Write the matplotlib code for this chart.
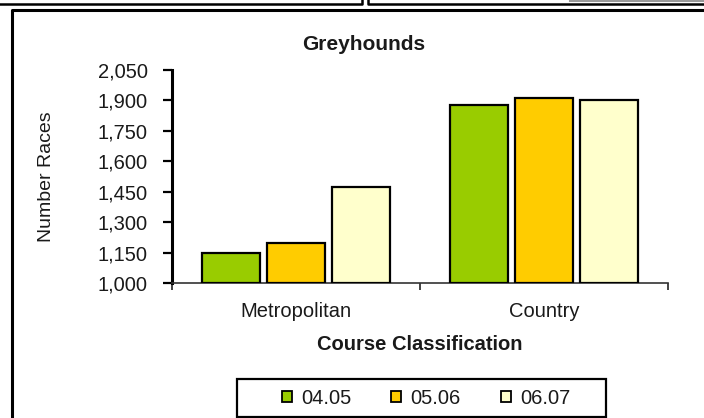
import matplotlib
matplotlib.use("Agg")
import matplotlib.pyplot as plt
from matplotlib.lines import Line2D
from matplotlib.patches import Patch, Rectangle
import numpy as np

# data
categories = ["Metropolitan", "Country"]
seasons = ["04.05", "05.06", "06.07"]
races_0405 = [1148, 1877]
races_0506 = [1196, 1913]
races_0607 = [1474, 1902]
colors = ["#99CC00", "#FFCC00", "#FFFFCC"]
y_ticks = [1000, 1150, 1300, 1450, 1600, 1750, 1900, 2050]

plt.rcParams["font.family"] = ["Liberation Sans", "DejaVu Sans"]
txt = "#1a1a1a"

fig = plt.figure(figsize=(7.04, 4.18), dpi=100)
W, H = 704, 418

# axes placed in pixel terms (left 172, right 668, top 70, bottom 283)
ax = fig.add_axes([172 / W, 1 - 283 / H, (668 - 172) / W, (283 - 70) / H])

x = np.arange(len(categories))
width = 0.235
step = 0.263
series = [races_0405, races_0506, races_0607]
for i, (vals, col) in enumerate(zip(series, colors)):
    ax.bar(x + (i - 1) * step, np.array(vals) - 1000, bottom=1000, width=width,
           color=col, edgecolor="black", linewidth=1.6, zorder=3)

ax.set_xlim(-0.5, len(categories) - 0.5)
ax.set_ylim(1000, 2050)
ax.set_yticks(y_ticks)
ax.set_yticklabels([f"{v:,}" for v in y_ticks])
ax.set_xticks(x)
ax.set_xticklabels(categories)
ax.set_xticks(np.arange(len(categories) + 1) - 0.5, minor=True)

ax.tick_params(axis="y", direction="out", length=6.5, width=1.6, pad=11,
               labelsize=14.5, labelcolor=txt)
ax.tick_params(axis="x", which="major", length=0, pad=14, labelsize=14.5,
               labelcolor=txt)
ax.tick_params(axis="x", which="minor", direction="out", length=5, width=1.2,
               color="#222222")

for s in ["top", "right"]:
    ax.spines[s].set_visible(False)
ax.spines["left"].set_linewidth(2.2)
ax.spines["left"].set_color("black")
ax.spines["bottom"].set_linewidth(1.2)
ax.spines["bottom"].set_color("#333333")

ax.set_xlabel("Course Classification", fontsize=14.5, fontweight="bold", color=txt)
ax.xaxis.set_label_coords(0.5, (283 - 345) / 213)
ax.xaxis.label.set_va("center")
ax.set_ylabel("Number Races", fontsize=14, color=txt)
ax.yaxis.set_label_coords((47 - 172) / 496, 0.5)
ax.yaxis.label.set_va("center")

fig.text(364 / W, 1 - 45 / H, "Greyhounds", ha="center", va="center",
         fontsize=15, fontweight="bold", color=txt)

# legend: entries without frame, box drawn separately to match the wide padding
handles = [Patch(facecolor=c, edgecolor="black", linewidth=1.3) for c in colors]
leg = fig.legend(handles, seasons, loc="center", ncol=3,
                 bbox_to_anchor=(426 / W, 1 - 398 / H), fontsize=14.5,
                 handlelength=0.5, handleheight=0.5, handletextpad=0.45,
                 columnspacing=2.0, frameon=False)
for t in leg.get_texts():
    t.set_color(txt)
fig.add_artist(Rectangle((237 / W, 1 - 417 / H), (606 - 237) / W, (417 - 379) / H,
                         transform=fig.transFigure, fill=False,
                         edgecolor="black", linewidth=1.6))

# chart border and neighbouring chart frames from the page
def fline(xs, ys, **kw):
    fig.add_artist(Line2D([v / W for v in xs], [1 - v / H for v in ys],
                          transform=fig.transFigure, **kw))

fline([12, 12, 704], [418, 10, 10], color="black", linewidth=2.2)
fline([0, 362, 362], [4, 4, 0], color="black", linewidth=1.8)
fline([368, 368, 704], [0, 4, 4], color="black", linewidth=1.8)
fline([570, 704], [0.5, 0.5], color="#999999", linewidth=1.5)

fig.savefig("out.png", dpi=100)
